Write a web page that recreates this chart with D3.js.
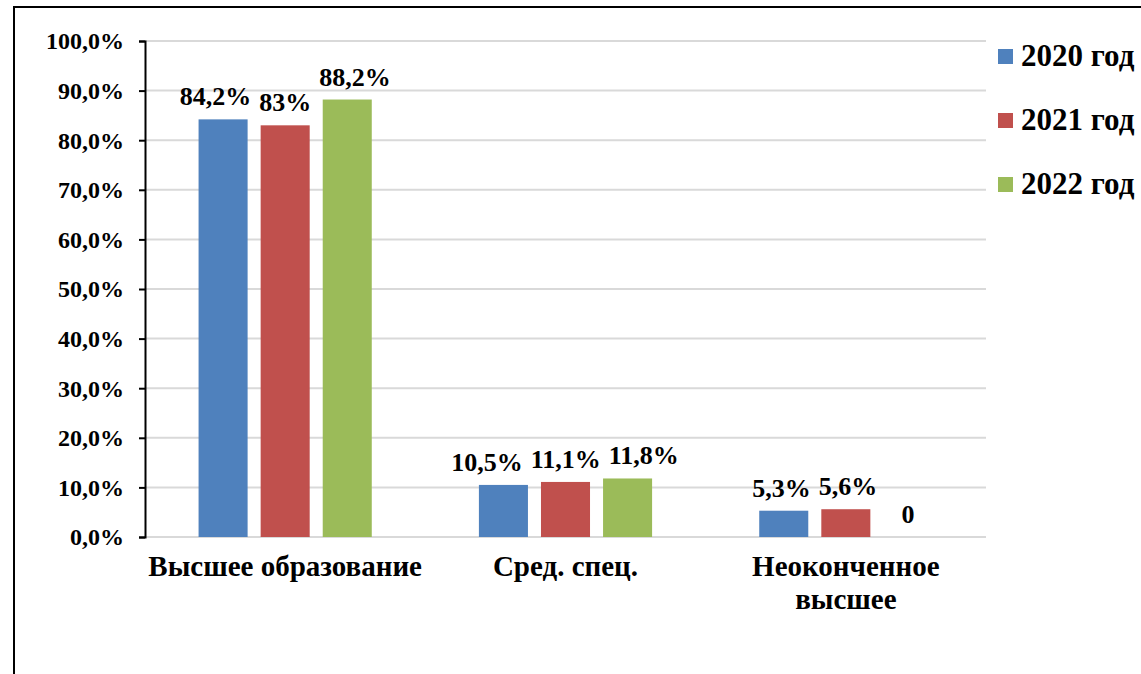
<!DOCTYPE html>
<html>
<head>
<meta charset="utf-8">
<script src="https://cdn.jsdelivr.net/npm/d3@7"></script>
<style>
  html, body { margin: 0; padding: 0; background: #fff; }
</style>
</head>
<body>
<div id="chart"></div>
<script>
const categories = [["Высшее образование"], ["Сред. спец."], ["Неоконченное", "высшее"]];
const seriesNames = ["2020 год", "2021 год", "2022 год"];
const values2020 = [84.2, 10.5, 5.3];
const values2021 = [83, 11.1, 5.6];
const values2022 = [88.2, 11.8, 0];
const labels2020 = ["84,2%", "10,5%", "5,3%"];
const labels2021 = ["83%", "11,1%", "5,6%"];
const labels2022 = ["88,2%", "11,8%", "0"];
const yTicks = [0, 10, 20, 30, 40, 50, 60, 70, 80, 90, 100];
const colors = ["#4f81bd", "#c0504d", "#9bbb59"];

const width = 1141,
  height = 674,
  margin = { top: 41, right: 155, bottom: 137, left: 145 },
  fontFamily = "'Liberation Serif', 'Times New Roman', 'DejaVu Serif', serif";

const seriesValues = [values2020, values2021, values2022];
const seriesLabels = [labels2020, labels2021, labels2022];

const svg = d3
  .select("#chart")
  .append("svg")
  .attr("width", width)
  .attr("height", height)
  .style("font-family", fontFamily)
  .style("font-weight", "bold");

// frame (only top and left edges are visible in the picture)
svg
  .append("path")
  .attr("d", `M14,${height} L14,7 L${width},7`)
  .attr("fill", "none")
  .attr("stroke", "#000")
  .attr("stroke-width", 2);

const x = d3
  .scaleBand()
  .domain(d3.range(categories.length))
  .range([margin.left, width - margin.right]);

const xSub = d3
  .scaleBand()
  .domain(d3.range(seriesNames.length))
  .range([0, x.bandwidth()])
  .paddingInner(0.21)
  .paddingOuter(0.863);

const y = d3
  .scaleLinear()
  .domain([0, 100])
  .range([height - margin.bottom, margin.top]);

// gridlines
svg
  .append("g")
  .selectAll("line")
  .data(yTicks)
  .join("line")
  .attr("x1", margin.left)
  .attr("x2", width - margin.right)
  .attr("y1", (d) => y(d))
  .attr("y2", (d) => y(d))
  .attr("stroke", "#d9d9d9")
  .attr("stroke-width", 2);

// y axis
const yAxis = svg
  .append("g")
  .attr("transform", `translate(${margin.left}, 0)`)
  .call(
    d3
      .axisLeft(y)
      .tickValues(yTicks)
      .tickSize(6)
      .tickPadding(15)
      .tickFormat((d) => d.toFixed(1).replace(".", ",") + "%")
  );
yAxis.attr("font-family", null).attr("font-size", null);
yAxis.select(".domain").attr("stroke", "#000").attr("stroke-width", 2);
yAxis.selectAll(".tick line").attr("stroke", "#000").attr("stroke-width", 2);
yAxis
  .selectAll(".tick text")
  .attr("font-size", 24)
  .attr("dy", "0.33em")
  .attr("fill", "#000");

// bars
const bars = [];
seriesValues.forEach((vals, s) => {
  vals.forEach((v, c) => {
    bars.push({ s: s, c: c, value: v, label: seriesLabels[s][c] });
  });
});

svg
  .append("g")
  .selectAll("rect")
  .data(bars)
  .join("rect")
  .attr("x", (d) => x(d.c) + xSub(d.s))
  .attr("width", xSub.bandwidth())
  .attr("y", (d) => y(d.value))
  .attr("height", (d) => y(0) - y(d.value))
  .attr("fill", (d) => colors[d.s]);

const valueLabels = svg
  .append("g")
  .selectAll("text")
  .data(bars)
  .join("text")
  .attr("y", (d) => y(d.value) - 14)
  .attr("text-anchor", "middle")
  .attr("font-size", 26)
  .attr("fill", "#000")
  .text((d) => d.label);

// spread labels that would collide inside a category
valueLabels.each(function (d) {
  d.w = this.getComputedTextLength();
  d.cx = x(d.c) + xSub(d.s) + xSub.bandwidth() / 2;
});
const gap = 8;
d3.range(categories.length).forEach((c) => {
  const row = bars.filter((d) => d.c === c).sort((a, b) => a.s - b.s);
  for (let k = 0; k < 30; k++) {
    for (let i = 0; i < row.length - 1; i++) {
      const a = row[i],
        b = row[i + 1];
      const overlap = (a.w + b.w) / 2 + gap - (b.cx - a.cx);
      if (overlap > 0) {
        a.cx -= overlap / 2;
        b.cx += overlap / 2;
      }
    }
  }
});
valueLabels.attr("x", (d) => d.cx);

// category labels
svg
  .append("g")
  .selectAll("text")
  .data(categories)
  .join("text")
  .attr("x", (d, i) => x(i) + x.bandwidth() / 2)
  .attr("y", 576)
  .attr("text-anchor", "middle")
  .attr("font-size", 29)
  .attr("fill", "#000")
  .each(function (lines) {
    d3.select(this)
      .selectAll("tspan")
      .data(lines)
      .join("tspan")
      .attr("x", d3.select(this).attr("x"))
      .attr("dy", (d, i) => (i === 0 ? 0 : 33))
      .text((d) => d);
  });

// legend
const legend = svg
  .append("g")
  .selectAll("g")
  .data(seriesNames)
  .join("g")
  .attr("transform", (d, i) => `translate(998, ${56 + i * 64})`);

legend
  .append("rect")
  .attr("x", 0)
  .attr("y", -7)
  .attr("width", 15)
  .attr("height", 15)
  .attr("fill", (d, i) => colors[i]);

legend
  .append("text")
  .attr("x", 23)
  .attr("y", 0)
  .attr("dy", "0.33em")
  .attr("font-size", 31)
  .attr("fill", "#000")
  .text((d) => d);
</script>
</body>
</html>
